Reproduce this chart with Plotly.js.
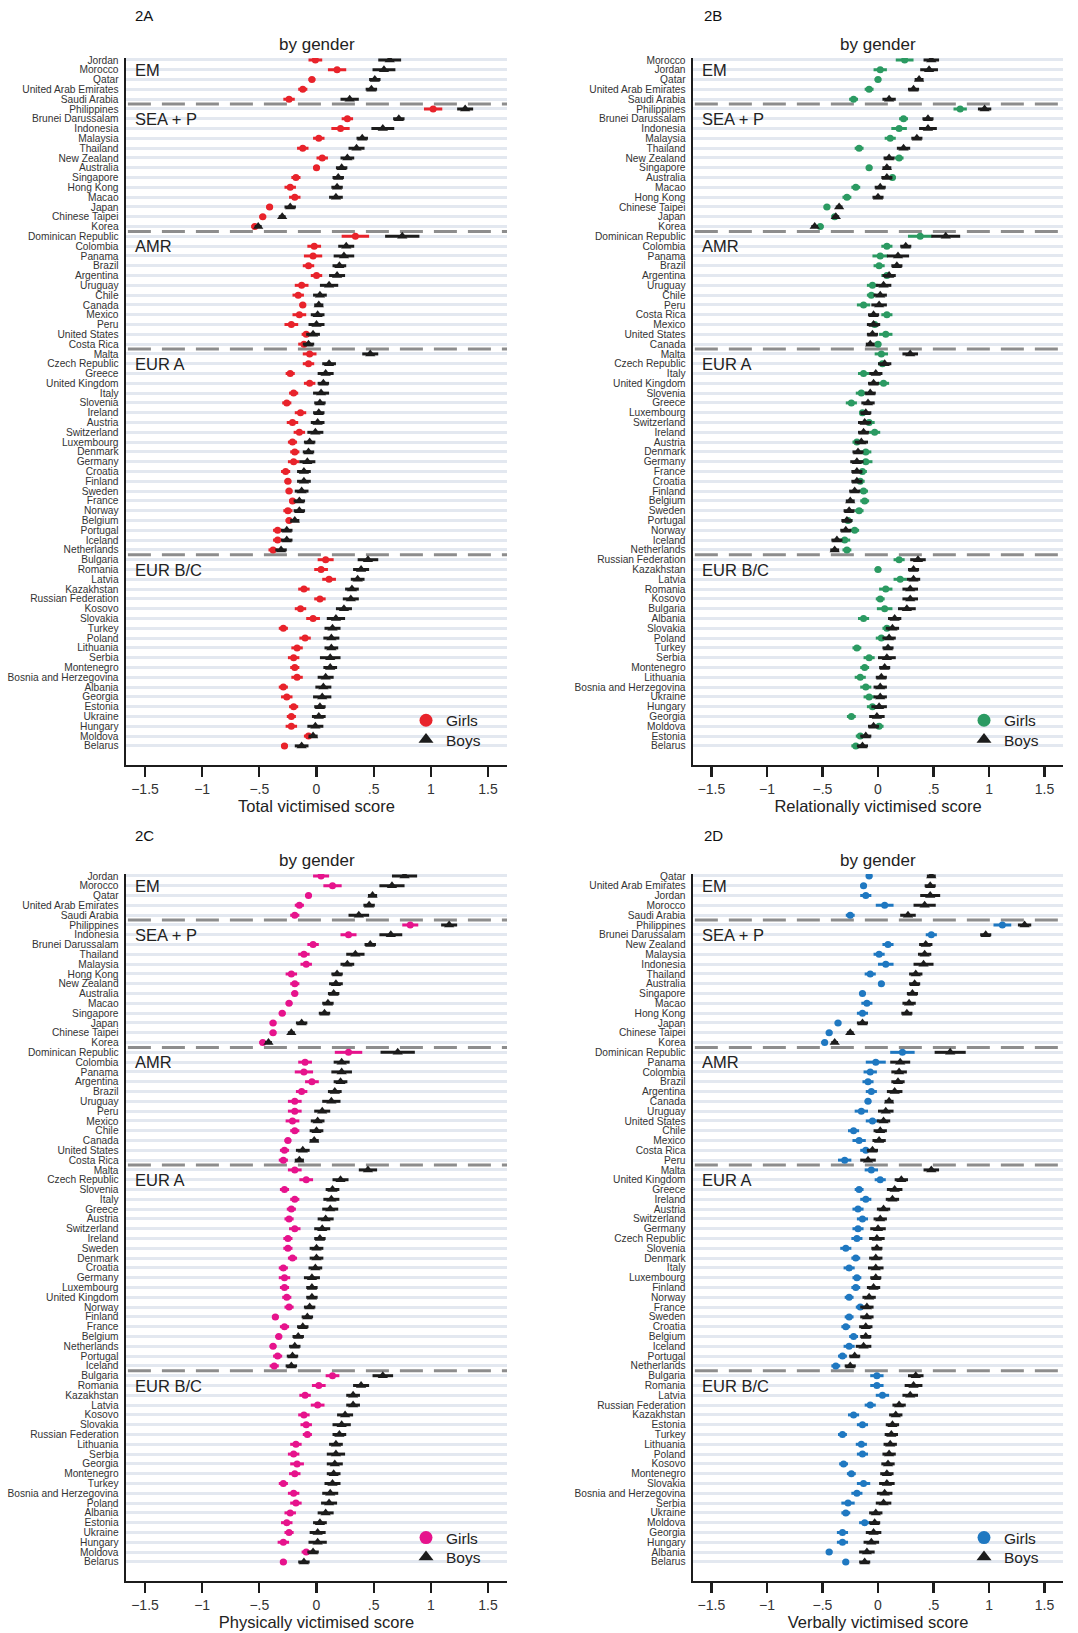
<!DOCTYPE html>
<html>
<head>
<meta charset="utf-8">
<script src="https://cdn.plot.ly/plotly-3.0.1.min.js"></script>
<style>html,body{margin:0;padding:0;background:#fff;}#chart{width:1078px;height:1633px;}</style>
</head>
<body>
<div id="chart"></div>
<script>
// ---------- data ----------
const regionNames = ['EM', 'SEA + P', 'AMR', 'EUR A', 'EUR B/C'];
const regionSizes = [5, 13, 12, 21, 20];
const xTickVals = [-1.5, -1, -0.5, 0, 0.5, 1, 1.5];
const xTickText = ['\u22121.5', '\u22121', '\u2212.5', '0', '.5', '1', '1.5'];

const countriesA = ['Jordan','Morocco','Qatar','United Arab Emirates','Saudi Arabia',
 'Philippines','Brunei Darussalam','Indonesia','Malaysia','Thailand','New Zealand','Australia','Singapore','Hong Kong','Macao','Japan','Chinese Taipei','Korea',
 'Dominican Republic','Colombia','Panama','Brazil','Argentina','Uruguay','Chile','Canada','Mexico','Peru','United States','Costa Rica',
 'Malta','Czech Republic','Greece','United Kingdom','Italy','Slovenia','Ireland','Austria','Switzerland','Luxembourg','Denmark','Germany','Croatia','Finland','Sweden','France','Norway','Belgium','Portugal','Iceland','Netherlands',
 'Bulgaria','Romania','Latvia','Kazakhstan','Russian Federation','Kosovo','Slovakia','Turkey','Poland','Lithuania','Serbia','Montenegro','Bosnia and Herzegovina','Albania','Georgia','Estonia','Ukraine','Hungary','Moldova','Belarus'];
const girlsA = [-0.01, 0.18, -0.04, -0.12, -0.24,
 1.02, 0.27, 0.21, 0.02, -0.12, 0.05, 0.00, -0.18, -0.23, -0.19, -0.41, -0.47, -0.54,
 0.34, -0.02, -0.03, -0.07, 0.00, -0.13, -0.16, -0.12, -0.15, -0.22, -0.09, -0.11,
 -0.06, -0.07, -0.23, -0.06, -0.20, -0.26, -0.14, -0.21, -0.15, -0.21, -0.19, -0.20, -0.27, -0.25, -0.24, -0.21, -0.25, -0.24, -0.34, -0.34, -0.38,
 0.08, 0.04, 0.11, -0.11, 0.03, -0.14, -0.03, -0.29, -0.10, -0.17, -0.20, -0.19, -0.17, -0.29, -0.26, -0.20, -0.22, -0.22, -0.07, -0.28];
const boysA = [0.64, 0.59, 0.51, 0.48, 0.29,
 1.30, 0.72, 0.58, 0.40, 0.35, 0.27, 0.22, 0.19, 0.18, 0.17, -0.23, -0.30, -0.51,
 0.75, 0.26, 0.24, 0.20, 0.18, 0.11, 0.03, 0.02, 0.01, 0.00, -0.03, -0.07,
 0.47, 0.11, 0.08, 0.06, 0.04, 0.03, 0.02, 0.01, -0.01, -0.06, -0.07, -0.08, -0.11, -0.11, -0.13, -0.15, -0.15, -0.19, -0.26, -0.26, -0.31,
 0.45, 0.39, 0.36, 0.31, 0.30, 0.24, 0.17, 0.14, 0.13, 0.13, 0.12, 0.12, 0.08, 0.06, 0.05, 0.03, 0.02, -0.01, -0.03, -0.13];
const girlsErrA = [0.06,0.08,0.03,0.04,0.05,
 0.08,0.05,0.08,0.05,0.05,0.05,0.03,0.04,0.05,0.05,0.03,0.03,0.03,
 0.12,0.06,0.08,0.05,0.05,0.06,0.05,0.03,0.06,0.06,0.04,0.05,
 0.06,0.05,0.04,0.05,0.04,0.04,0.05,0.05,0.05,0.04,0.04,0.05,0.04,0.03,0.03,0.03,0.04,0.03,0.04,0.04,0.04,
 0.07,0.06,0.06,0.05,0.05,0.05,0.06,0.04,0.05,0.05,0.05,0.04,0.05,0.04,0.05,0.04,0.04,0.05,0.04,0.03];
const boysErrA = [0.10,0.10,0.05,0.05,0.08,
 0.07,0.05,0.10,0.05,0.07,0.06,0.05,0.05,0.05,0.06,0.05,0.03,0.03,
 0.15,0.07,0.09,0.06,0.07,0.08,0.06,0.04,0.06,0.07,0.06,0.05,
 0.07,0.06,0.07,0.05,0.07,0.05,0.05,0.06,0.07,0.05,0.05,0.07,0.06,0.06,0.06,0.05,0.05,0.04,0.05,0.05,0.05,
 0.09,0.07,0.06,0.06,0.07,0.07,0.08,0.07,0.07,0.06,0.09,0.06,0.07,0.07,0.08,0.05,0.06,0.07,0.04,0.06];

const countriesB = ['Morocco','Jordan','Qatar','United Arab Emirates','Saudi Arabia',
 'Philippines','Brunei Darussalam','Indonesia','Malaysia','Thailand','New Zealand','Singapore','Australia','Macao','Hong Kong','Chinese Taipei','Japan','Korea',
 'Dominican Republic','Colombia','Panama','Brazil','Argentina','Uruguay','Chile','Peru','Costa Rica','Mexico','United States','Canada',
 'Malta','Czech Republic','Italy','United Kingdom','Slovenia','Greece','Luxembourg','Switzerland','Ireland','Austria','Denmark','Germany','France','Croatia','Finland','Belgium','Sweden','Portugal','Norway','Iceland','Netherlands',
 'Russian Federation','Kazakhstan','Latvia','Romania','Kosovo','Bulgaria','Albania','Slovakia','Poland','Turkey','Serbia','Montenegro','Lithuania','Bosnia and Herzegovina','Ukraine','Hungary','Georgia','Moldova','Estonia','Belarus'];
const girlsB = [0.24, 0.02, 0.00, -0.08, -0.22,
 0.74, 0.23, 0.19, 0.11, -0.17, 0.19, -0.08, 0.13, -0.20, -0.28, -0.46, -0.39, -0.52,
 0.38, 0.08, 0.02, 0.01, 0.08, -0.05, -0.06, -0.13, 0.08, -0.03, 0.07, 0.00,
 0.03, 0.04, -0.13, 0.05, -0.15, -0.24, -0.14, -0.08, -0.03, -0.19, -0.11, -0.11, -0.14, -0.16, -0.13, -0.12, -0.17, -0.27, -0.21, -0.30, -0.28,
 0.19, 0.00, 0.20, 0.07, 0.02, 0.06, -0.13, 0.08, 0.03, -0.19, -0.08, -0.12, -0.16, -0.11, -0.08, -0.05, -0.24, 0.01, -0.16, -0.20];
const boysB = [0.48, 0.46, 0.37, 0.32, 0.10,
 0.96, 0.45, 0.45, 0.35, 0.23, 0.10, 0.08, 0.08, 0.02, 0.00, -0.35, -0.38, -0.57,
 0.61, 0.25, 0.18, 0.17, 0.10, 0.05, 0.02, 0.01, -0.04, -0.04, -0.05, -0.07,
 0.29, 0.06, -0.02, -0.04, -0.07, -0.09, -0.11, -0.12, -0.13, -0.15, -0.18, -0.19, -0.19, -0.19, -0.21, -0.25, -0.26, -0.28, -0.29, -0.37, -0.39,
 0.36, 0.32, 0.32, 0.29, 0.29, 0.26, 0.15, 0.13, 0.10, 0.09, 0.08, 0.06, 0.03, 0.02, 0.02, 0.01, -0.01, -0.04, -0.11, -0.14];
const girlsErrB = [0.08,0.06,0.03,0.04,0.04,
 0.06,0.04,0.07,0.05,0.04,0.04,0.03,0.03,0.04,0.04,0.03,0.03,0.03,
 0.11,0.05,0.07,0.05,0.05,0.05,0.04,0.06,0.05,0.04,0.06,0.03,
 0.06,0.04,0.05,0.05,0.05,0.05,0.03,0.05,0.05,0.04,0.05,0.06,0.04,0.04,0.04,0.04,0.04,0.04,0.04,0.05,0.04,
 0.05,0.03,0.06,0.06,0.04,0.07,0.05,0.04,0.05,0.04,0.05,0.04,0.05,0.05,0.05,0.05,0.04,0.04,0.04,0.04];
const boysErrB = [0.07,0.08,0.04,0.05,0.06,
 0.06,0.05,0.08,0.05,0.06,0.05,0.04,0.05,0.05,0.05,0.03,0.03,0.03,
 0.13,0.05,0.10,0.05,0.06,0.07,0.06,0.07,0.05,0.06,0.05,0.04,
 0.07,0.06,0.06,0.05,0.05,0.06,0.05,0.06,0.05,0.06,0.05,0.06,0.05,0.05,0.05,0.04,0.05,0.05,0.05,0.05,0.04,
 0.07,0.05,0.06,0.07,0.07,0.08,0.06,0.06,0.06,0.05,0.08,0.05,0.05,0.06,0.06,0.07,0.07,0.05,0.05,0.05];

const countriesC = ['Jordan','Morocco','Qatar','United Arab Emirates','Saudi Arabia',
 'Philippines','Indonesia','Brunei Darussalam','Thailand','Malaysia','Hong Kong','New Zealand','Australia','Macao','Singapore','Japan','Chinese Taipei','Korea',
 'Dominican Republic','Colombia','Panama','Argentina','Brazil','Uruguay','Peru','Mexico','Chile','Canada','United States','Costa Rica',
 'Malta','Czech Republic','Slovenia','Italy','Greece','Austria','Switzerland','Ireland','Sweden','Denmark','Croatia','Germany','Luxembourg','United Kingdom','Norway','Finland','France','Belgium','Netherlands','Portugal','Iceland',
 'Bulgaria','Romania','Kazakhstan','Latvia','Kosovo','Slovakia','Russian Federation','Lithuania','Serbia','Georgia','Montenegro','Turkey','Bosnia and Herzegovina','Poland','Albania','Estonia','Ukraine','Hungary','Moldova','Belarus'];
const girlsC = [0.04, 0.14, -0.07, -0.15, -0.19,
 0.82, 0.28, -0.03, -0.11, -0.09, -0.22, -0.19, -0.19, -0.24, -0.30, -0.38, -0.38, -0.47,
 0.28, -0.10, -0.11, -0.04, -0.13, -0.19, -0.19, -0.21, -0.19, -0.25, -0.28, -0.29,
 -0.19, -0.09, -0.28, -0.19, -0.22, -0.24, -0.19, -0.25, -0.25, -0.21, -0.29, -0.28, -0.28, -0.26, -0.24, -0.36, -0.28, -0.33, -0.38, -0.34, -0.37,
 0.14, 0.02, -0.10, 0.01, -0.11, -0.09, -0.08, -0.18, -0.20, -0.17, -0.19, -0.29, -0.20, -0.18, -0.23, -0.26, -0.24, -0.29, -0.09, -0.29];
const boysC = [0.77, 0.66, 0.49, 0.46, 0.37,
 1.16, 0.65, 0.47, 0.34, 0.27, 0.18, 0.17, 0.15, 0.10, 0.07, -0.13, -0.22, -0.42,
 0.71, 0.22, 0.22, 0.21, 0.16, 0.13, 0.05, 0.01, 0.00, -0.02, -0.12, -0.15,
 0.45, 0.21, 0.14, 0.13, 0.12, 0.08, 0.05, 0.03, 0.00, 0.00, -0.01, -0.04, -0.04, -0.04, -0.06, -0.08, -0.12, -0.16, -0.19, -0.21, -0.22,
 0.58, 0.39, 0.32, 0.32, 0.25, 0.22, 0.20, 0.17, 0.17, 0.16, 0.15, 0.14, 0.12, 0.11, 0.08, 0.03, 0.01, 0.01, -0.03, -0.11];
const girlsErrC = [0.07,0.08,0.03,0.04,0.04,
 0.07,0.07,0.05,0.05,0.05,0.05,0.04,0.03,0.03,0.03,0.03,0.03,0.03,
 0.12,0.06,0.08,0.06,0.05,0.06,0.06,0.06,0.04,0.03,0.04,0.04,
 0.06,0.06,0.04,0.04,0.04,0.04,0.05,0.04,0.04,0.04,0.04,0.05,0.04,0.04,0.04,0.03,0.04,0.03,0.03,0.04,0.04,
 0.06,0.06,0.05,0.06,0.05,0.05,0.04,0.05,0.05,0.06,0.05,0.04,0.05,0.05,0.05,0.05,0.04,0.05,0.04,0.03];
const boysErrC = [0.11,0.11,0.04,0.05,0.09,
 0.07,0.10,0.05,0.08,0.06,0.05,0.06,0.05,0.05,0.05,0.05,0.03,0.03,
 0.15,0.07,0.09,0.06,0.06,0.08,0.07,0.06,0.06,0.04,0.06,0.04,
 0.08,0.07,0.06,0.07,0.07,0.07,0.07,0.05,0.06,0.06,0.06,0.07,0.05,0.05,0.05,0.05,0.05,0.05,0.05,0.05,0.05,
 0.09,0.07,0.06,0.06,0.07,0.08,0.06,0.06,0.08,0.07,0.06,0.07,0.07,0.07,0.07,0.06,0.07,0.08,0.05,0.05];

const countriesD = ['Qatar','United Arab Emirates','Jordan','Morocco','Saudi Arabia',
 'Philippines','Brunei Darussalam','New Zealand','Malaysia','Indonesia','Thailand','Australia','Singapore','Macao','Hong Kong','Japan','Chinese Taipei','Korea',
 'Dominican Republic','Panama','Colombia','Brazil','Argentina','Canada','Uruguay','United States','Chile','Mexico','Costa Rica','Peru',
 'Malta','United Kingdom','Greece','Ireland','Austria','Switzerland','Germany','Czech Republic','Slovenia','Denmark','Italy','Luxembourg','Finland','Norway','France','Sweden','Croatia','Belgium','Iceland','Portugal','Netherlands',
 'Bulgaria','Romania','Latvia','Russian Federation','Kazakhstan','Estonia','Turkey','Lithuania','Poland','Kosovo','Montenegro','Slovakia','Bosnia and Herzegovina','Serbia','Ukraine','Moldova','Georgia','Hungary','Albania','Belarus'];
const girlsD = [-0.08, -0.13, -0.11, 0.06, -0.25,
 1.12, 0.48, 0.09, 0.01, 0.07, -0.07, 0.03, -0.14, -0.10, -0.14, -0.36, -0.44, -0.48,
 0.22, -0.02, -0.07, -0.09, -0.06, -0.09, -0.15, -0.05, -0.22, -0.17, -0.11, -0.30,
 -0.06, 0.02, -0.17, -0.11, -0.18, -0.14, -0.18, -0.19, -0.29, -0.20, -0.26, -0.19, -0.20, -0.26, -0.16, -0.26, -0.29, -0.22, -0.26, -0.32, -0.38,
 -0.01, -0.01, 0.04, -0.07, -0.22, -0.14, -0.32, -0.15, -0.14, -0.31, -0.24, -0.13, -0.19, -0.27, -0.29, -0.12, -0.32, -0.32, -0.44, -0.29];
const boysD = [0.48, 0.47, 0.47, 0.42, 0.27,
 1.32, 0.97, 0.43, 0.42, 0.41, 0.34, 0.33, 0.31, 0.28, 0.26, -0.14, -0.25, -0.39,
 0.65, 0.20, 0.19, 0.18, 0.15, 0.10, 0.07, 0.05, 0.02, 0.01, -0.05, -0.09,
 0.48, 0.21, 0.15, 0.13, 0.05, 0.02, 0.00, -0.01, -0.01, -0.02, -0.02, -0.02, -0.04, -0.08, -0.10, -0.10, -0.11, -0.11, -0.13, -0.21, -0.25,
 0.34, 0.32, 0.29, 0.19, 0.16, 0.13, 0.12, 0.11, 0.10, 0.09, 0.08, 0.08, 0.06, 0.05, -0.02, -0.03, -0.04, -0.06, -0.10, -0.12];
const girlsErrD = [0.03,0.03,0.05,0.08,0.04,
 0.08,0.05,0.05,0.05,0.07,0.05,0.03,0.03,0.05,0.05,0.03,0.03,0.03,
 0.11,0.09,0.06,0.05,0.05,0.03,0.06,0.06,0.05,0.06,0.05,0.06,
 0.06,0.05,0.04,0.05,0.05,0.05,0.05,0.05,0.05,0.04,0.05,0.04,0.04,0.04,0.04,0.04,0.04,0.04,0.05,0.04,0.04,
 0.06,0.06,0.06,0.05,0.05,0.05,0.04,0.05,0.05,0.04,0.04,0.06,0.05,0.06,0.04,0.05,0.05,0.05,0.03,0.03];
const boysErrD = [0.04,0.05,0.09,0.10,0.07,
 0.06,0.05,0.06,0.06,0.09,0.06,0.05,0.05,0.06,0.05,0.05,0.03,0.03,
 0.14,0.09,0.07,0.06,0.07,0.04,0.07,0.06,0.06,0.06,0.05,0.07,
 0.07,0.06,0.07,0.06,0.06,0.06,0.07,0.07,0.05,0.06,0.07,0.05,0.06,0.06,0.06,0.06,0.06,0.05,0.07,0.05,0.05,
 0.07,0.08,0.07,0.06,0.06,0.06,0.06,0.06,0.06,0.06,0.06,0.07,0.07,0.07,0.06,0.05,0.07,0.07,0.07,0.05];

const panelLabels = ['2A', '2B', '2C', '2D'];
const axisTitles = ['Total victimised score', 'Relationally victimised score', 'Physically victimised score', 'Verbally victimised score'];
const girlsColors = ['#e8232b', '#2b9a62', '#e6138c', '#1f78c1'];
const boysColor = '#1c1c1c';

// ---------- layout geometry ----------
const W = 1078, H = 1633;
const FONT = 'Liberation Sans, Arial, Helvetica, sans-serif';
const xDomains = [[126 / W, 507 / W], [693 / W, 1063 / W]];
const yDomains = [[1 - 764.5 / H, 1 - 58 / H], [1 - 1580.5 / H, 1 - 874 / H]];
const legendLeftPx = [406, 964];
const legendRowPx = [[720.7, 740], [1538, 1557.5]];

const panels = [
  {countries: countriesA, girls: girlsA, boys: boysA, gErr: girlsErrA, bErr: boysErrA},
  {countries: countriesB, girls: girlsB, boys: boysB, gErr: girlsErrB, bErr: boysErrB},
  {countries: countriesC, girls: girlsC, boys: boysC, gErr: girlsErrC, bErr: boysErrC},
  {countries: countriesD, girls: girlsD, boys: boysD, gErr: girlsErrD, bErr: boysErrD}
];

const data = [];
const layout = {
  width: W, height: H,
  margin: {l: 0, r: 0, t: 0, b: 0},
  paper_bgcolor: '#ffffff', plot_bgcolor: '#ffffff',
  font: {family: FONT, color: '#222'},
  showlegend: true,
  shapes: [], annotations: []
};

function legendBox(leftPx, centerPx) {
  return {
    x: leftPx / W, xanchor: 'left', y: 1 - centerPx / H, yanchor: 'middle',
    bgcolor: 'rgba(0,0,0,0)', borderwidth: 0,
    font: {size: 15.5, color: '#222', family: FONT},
    itemclick: false, itemdoubleclick: false
  };
}

panels.forEach((p, i) => {
  const col = i % 2, row = Math.floor(i / 2);
  const sfx = i === 0 ? '' : String(i + 1);
  const xa = 'x' + sfx, ya = 'y' + sfx;
  const legG = 'legend' + (2 * i === 0 ? '' : String(2 * i + 1));
  const legB = 'legend' + String(2 * i + 2);
  const n = p.countries.length;

  layout['xaxis' + sfx] = {
    domain: xDomains[col], anchor: ya, range: [-1.666, 1.666],
    tickmode: 'array', tickvals: xTickVals, ticktext: xTickText,
    ticks: 'outside', ticklen: 10, tickwidth: 2.2, tickcolor: '#1c1c1c',
    showline: true, linecolor: '#1c1c1c', linewidth: 2.4,
    showgrid: false, zeroline: false,
    tickfont: {size: 14, color: '#333', family: FONT},
    title: {text: axisTitles[i], font: {size: 16.5, color: '#222', family: FONT}, standoff: 3},
    fixedrange: true
  };
  layout['yaxis' + sfx] = {
    domain: yDomains[row], anchor: xa, type: 'category',
    categoryorder: 'array', categoryarray: p.countries,
    tickmode: 'array', tickvals: p.countries, ticktext: p.countries,
    range: [n - 1 + 1.9, -0.2],
    showgrid: true, gridcolor: '#e3e8f0', gridwidth: 3,
    showline: true, linecolor: '#1c1c1c', linewidth: 2.4,
    ticks: '', ticklabelstandoff: 3,
    tickfont: {size: 10.2, color: '#333', family: FONT},
    zeroline: false, fixedrange: true
  };

  data.push({
    type: 'scatter', mode: 'markers', xaxis: xa, yaxis: ya,
    x: p.girls, y: p.countries, name: 'Girls', showlegend: false,
    marker: {symbol: 'circle', size: 7, color: girlsColors[i]},
    error_x: {type: 'data', array: p.gErr, color: girlsColors[i], thickness: 3, width: 0}
  });
  data.push({
    type: 'scatter', mode: 'markers', xaxis: xa, yaxis: ya,
    x: p.boys, y: p.countries, name: 'Boys', showlegend: false,
    marker: {symbol: 'triangle-up', size: 9, color: boysColor},
    error_x: {type: 'data', array: p.bErr, color: boysColor, thickness: 3, width: 0}
  });
  // legend entries (no marks in the plot area)
  data.push({type: 'scatter', mode: 'markers', xaxis: xa, yaxis: ya, x: [null], y: [null],
    name: 'Girls', legend: legG, marker: {symbol: 'circle', size: 13, color: girlsColors[i]}});
  data.push({type: 'scatter', mode: 'markers', xaxis: xa, yaxis: ya, x: [null], y: [null],
    name: 'Boys', legend: legB, marker: {symbol: 'triangle-up', size: 13, color: boysColor}});

  layout[legG] = legendBox(legendLeftPx[col], legendRowPx[row][0]);
  layout[legB] = legendBox(legendLeftPx[col], legendRowPx[row][1]);

  // region separators and labels
  let start = 0;
  regionSizes.forEach((sz, r) => {
    layout.annotations.push({
      xref: xa + ' domain', yref: ya, x: 0.018, y: p.countries[start + 1],
      xanchor: 'left', yanchor: 'middle', showarrow: false,
      text: regionNames[r], font: {size: 16.5, color: '#222', family: FONT}
    });
    start += sz;
    if (r < regionSizes.length - 1) {
      layout.shapes.push({
        type: 'line', layer: 'below', xref: xa + ' domain', yref: ya,
        x0: 0.005, x1: 1, y0: start - 0.5, y1: start - 0.5,
        line: {color: '#8d8d8d', width: 3, dash: '23px,11px'}
      });
    }
  });

  // "by gender" subtitle and panel label
  layout.annotations.push({
    xref: xa + ' domain', yref: 'paper', x: 0.5, y: 1 - (row === 0 ? 44 : 860.5) / H,
    xanchor: 'center', yanchor: 'middle', showarrow: false,
    text: 'by gender', font: {size: 17, color: '#222', family: FONT}
  });
  layout.annotations.push({
    xref: 'paper', yref: 'paper', x: (col === 0 ? 133 : 702) / W, y: 1 - (row === 0 ? 16 : 835) / H,
    xanchor: 'left', yanchor: 'middle', showarrow: false,
    text: panelLabels[i], font: {size: 15, color: '#111', family: FONT}
  });
});

Plotly.newPlot('chart', data, layout, {displayModeBar: false, staticPlot: true});
</script>
</body>
</html>
